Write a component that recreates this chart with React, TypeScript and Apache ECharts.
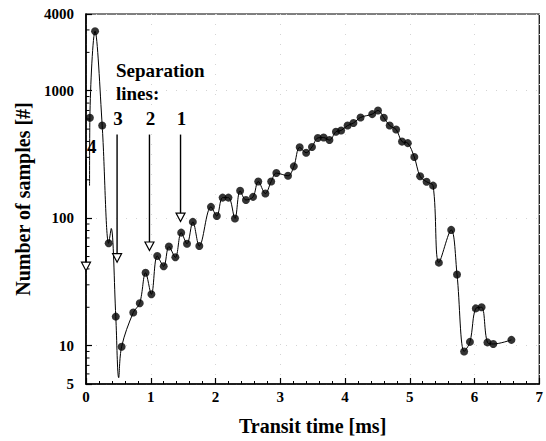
import React, { useEffect, useRef } from 'react';
import * as echarts from 'echarts';

// Transit time (ms) and number of samples (marked points)
const times = [
  0.06, 0.14, 0.25, 0.35, 0.46, 0.55, 0.73, 0.83, 0.92, 1.01,
  1.10, 1.20, 1.28, 1.38, 1.47, 1.56, 1.65, 1.75, 1.93, 2.02,
  2.11, 2.20, 2.30, 2.38, 2.47, 2.58, 2.66, 2.77, 2.86, 2.94,
  3.12, 3.21, 3.30, 3.40, 3.49, 3.58, 3.67, 3.76, 3.86, 3.94,
  4.04, 4.13, 4.24, 4.42, 4.51, 4.60, 4.69, 4.79, 4.88, 4.97,
  5.07, 5.16, 5.26, 5.36, 5.45, 5.64, 5.73, 5.84, 5.93, 6.02,
  6.11, 6.20, 6.29, 6.57,
];
const counts = [
  613, 2930, 533, 63.5, 16.9, 9.8, 18.2, 21.5, 37.3, 25.3,
  50.5, 42, 59.9, 49.3, 77, 63, 93.5, 60.5, 122.7, 104,
  145, 145, 99.5, 164, 139, 147, 194, 156, 194, 226,
  215, 255, 360, 326, 362, 426, 429, 410, 477, 488,
  533, 558, 617, 655, 700, 614, 533, 496, 399, 388,
  302, 213, 193, 180, 44.8, 80.9, 36.2, 9.0, 10.7, 19.6,
  20.0, 10.6, 10.3, 11.1,
];

// Extra vertices of the connecting curve (no marker)
const curveExtraTimes = [0.055, 0.39, 0.505];
const curveExtraCounts = [180, 83, 5.6];

// Separation lines
const sepTimes = [0, 0.48, 0.98, 1.46];
const sepTips = [42, 49, 60.5, 102];
const sepTops = [290, 453, 453, 453];
const sepLabels = ['4', '3', '2', '1'];

// Axes
const xMin = 0;
const xMax = 7;
const xInterval = 1;
const yMin = 5;
const yMax = 4000;
const yMinorTicks = [6, 7, 8, 9, 20, 30, 40, 50, 60, 70, 80, 90, 200, 300, 400, 500, 600, 700, 800, 900, 2000, 3000];

const FONT = '"Liberation Serif", "Times New Roman", serif';

export default function App() {
  const ref = useRef<HTMLDivElement>(null);
  useEffect(() => {
    if (!ref.current) return;
    const chart = echarts.init(ref.current, null, { renderer: 'svg' });

    const curveData = times
      .map((t, i) => [t, counts[i]])
      .concat(curveExtraTimes.map((t, i) => [t, curveExtraCounts[i]]))
      .sort((a, b) => a[0] - b[0]);

    const gridLine = { show: true, lineStyle: { color: '#d4d4d4', type: [1, 9], width: 1 } };

    const option: any = {
      animation: false,
      backgroundColor: '#fff',
      grid: {
        left: 86,
        right: 1,
        top: 14,
        bottom: 57,
        show: true,
        borderColor: '#000',
        borderWidth: 1.2,
      },
      xAxis: {
        type: 'value',
        min: xMin,
        max: xMax,
        interval: xInterval,
        name: 'Transit time [ms]',
        nameLocation: 'middle',
        nameGap: 32,
        nameTextStyle: { fontFamily: FONT, fontWeight: 'bold', fontSize: 20, color: '#000' },
        axisLine: { lineStyle: { color: '#000', width: 1.6 } },
        axisTick: { inside: true, length: 6, lineStyle: { color: '#000', width: 1.2 } },
        minorTick: { show: true, splitNumber: 5, length: 3, lineStyle: { color: '#000', width: 1 } },
        axisLabel: { fontFamily: FONT, fontWeight: 'bold', fontSize: 15, color: '#000', margin: 5 },
        splitLine: gridLine,
      },
      yAxis: {
        type: 'log',
        logBase: 10,
        min: yMin,
        max: yMax,
        name: 'Number of samples [#]',
        nameLocation: 'middle',
        nameGap: 52,
        nameTextStyle: { fontFamily: FONT, fontWeight: 'bold', fontSize: 20, color: '#000' },
        axisLine: { show: true, lineStyle: { color: '#000', width: 1.6 } },
        axisTick: { show: true, inside: true, length: 6, lineStyle: { color: '#000', width: 1.2 } },
        axisLabel: {
          fontFamily: FONT,
          fontWeight: 'bold',
          fontSize: 15,
          color: '#000',
          margin: 12,
          formatter: (v: number) => String(Math.round(v)),
        },
        splitLine: gridLine,
      },
      graphic: [
        {
          type: 'text',
          x: 116,
          y: 70,
          style: { text: 'Separation', font: `bold 19px ${FONT}`, fill: '#000', align: 'left', verticalAlign: 'middle' },
        },
        {
          type: 'text',
          x: 116,
          y: 93,
          style: { text: 'lines:', font: `bold 19px ${FONT}`, fill: '#000', align: 'left', verticalAlign: 'middle' },
        },
      ],
      series: [
        {
          type: 'custom',
          name: 'minorTicks',
          silent: true,
          data: yMinorTicks.map((v) => [xMin, v]),
          encode: { x: 0, y: 1 },
          renderItem: (params: any, api: any) => {
            const p = api.coord([api.value(0), api.value(1)]);
            return {
              type: 'line',
              shape: { x1: p[0], y1: p[1], x2: p[0] + 3.5, y2: p[1] },
              style: { stroke: '#000', lineWidth: 1 },
            };
          },
          z: 3,
        },
        {
          type: 'line',
          name: 'curve',
          silent: true,
          data: curveData,
          smooth: 0.35,
          showSymbol: false,
          symbol: 'none',
          lineStyle: { color: '#000', width: 1 },
          z: 4,
        },
        {
          type: 'scatter',
          name: 'samples',
          data: times.map((t, i) => [t, counts[i]]),
          symbol: 'circle',
          symbolSize: 8,
          itemStyle: { color: '#000' },
          z: 5,
        },
        {
          type: 'custom',
          name: 'separation',
          silent: true,
          data: sepTimes.map((t, i) => [t, sepTips[i], sepTops[i], i]),
          encode: { x: 0, y: 1 },
          renderItem: (params: any, api: any) => {
            const idx = api.value(3);
            const tip = api.coord([api.value(0), api.value(1)]);
            const top = api.coord([api.value(0), api.value(2)]);
            const cx = tip[0];
            const cy = tip[1];
            const first = idx === 0;
            return {
              type: 'group',
              children: [
                {
                  type: 'line',
                  shape: { x1: top[0], y1: top[1], x2: cx, y2: cy - 4 },
                  style: { stroke: '#000', lineWidth: 1.4 },
                },
                {
                  type: 'polygon',
                  shape: { points: [[cx - 4.5, cy - 4], [cx + 4.5, cy - 4], [cx, cy + 4.5]] },
                  style: { fill: '#fff', stroke: '#000', lineWidth: 1.2 },
                },
                {
                  type: 'text',
                  x: top[0] + 1,
                  y: first ? top[1] - 13 : top[1] - 16,
                  style: {
                    text: sepLabels[idx],
                    font: `bold 19px ${FONT}`,
                    fill: '#000',
                    align: first ? 'left' : 'center',
                    verticalAlign: 'middle',
                  },
                },
              ],
            };
          },
          z: 6,
        },
      ],
    };
    chart.setOption(option);
    return () => chart.dispose();
  }, []);
  return <div ref={ref} style={{ width: 546, height: 441, position: 'absolute', left: 0, top: 0 }} />;
}
